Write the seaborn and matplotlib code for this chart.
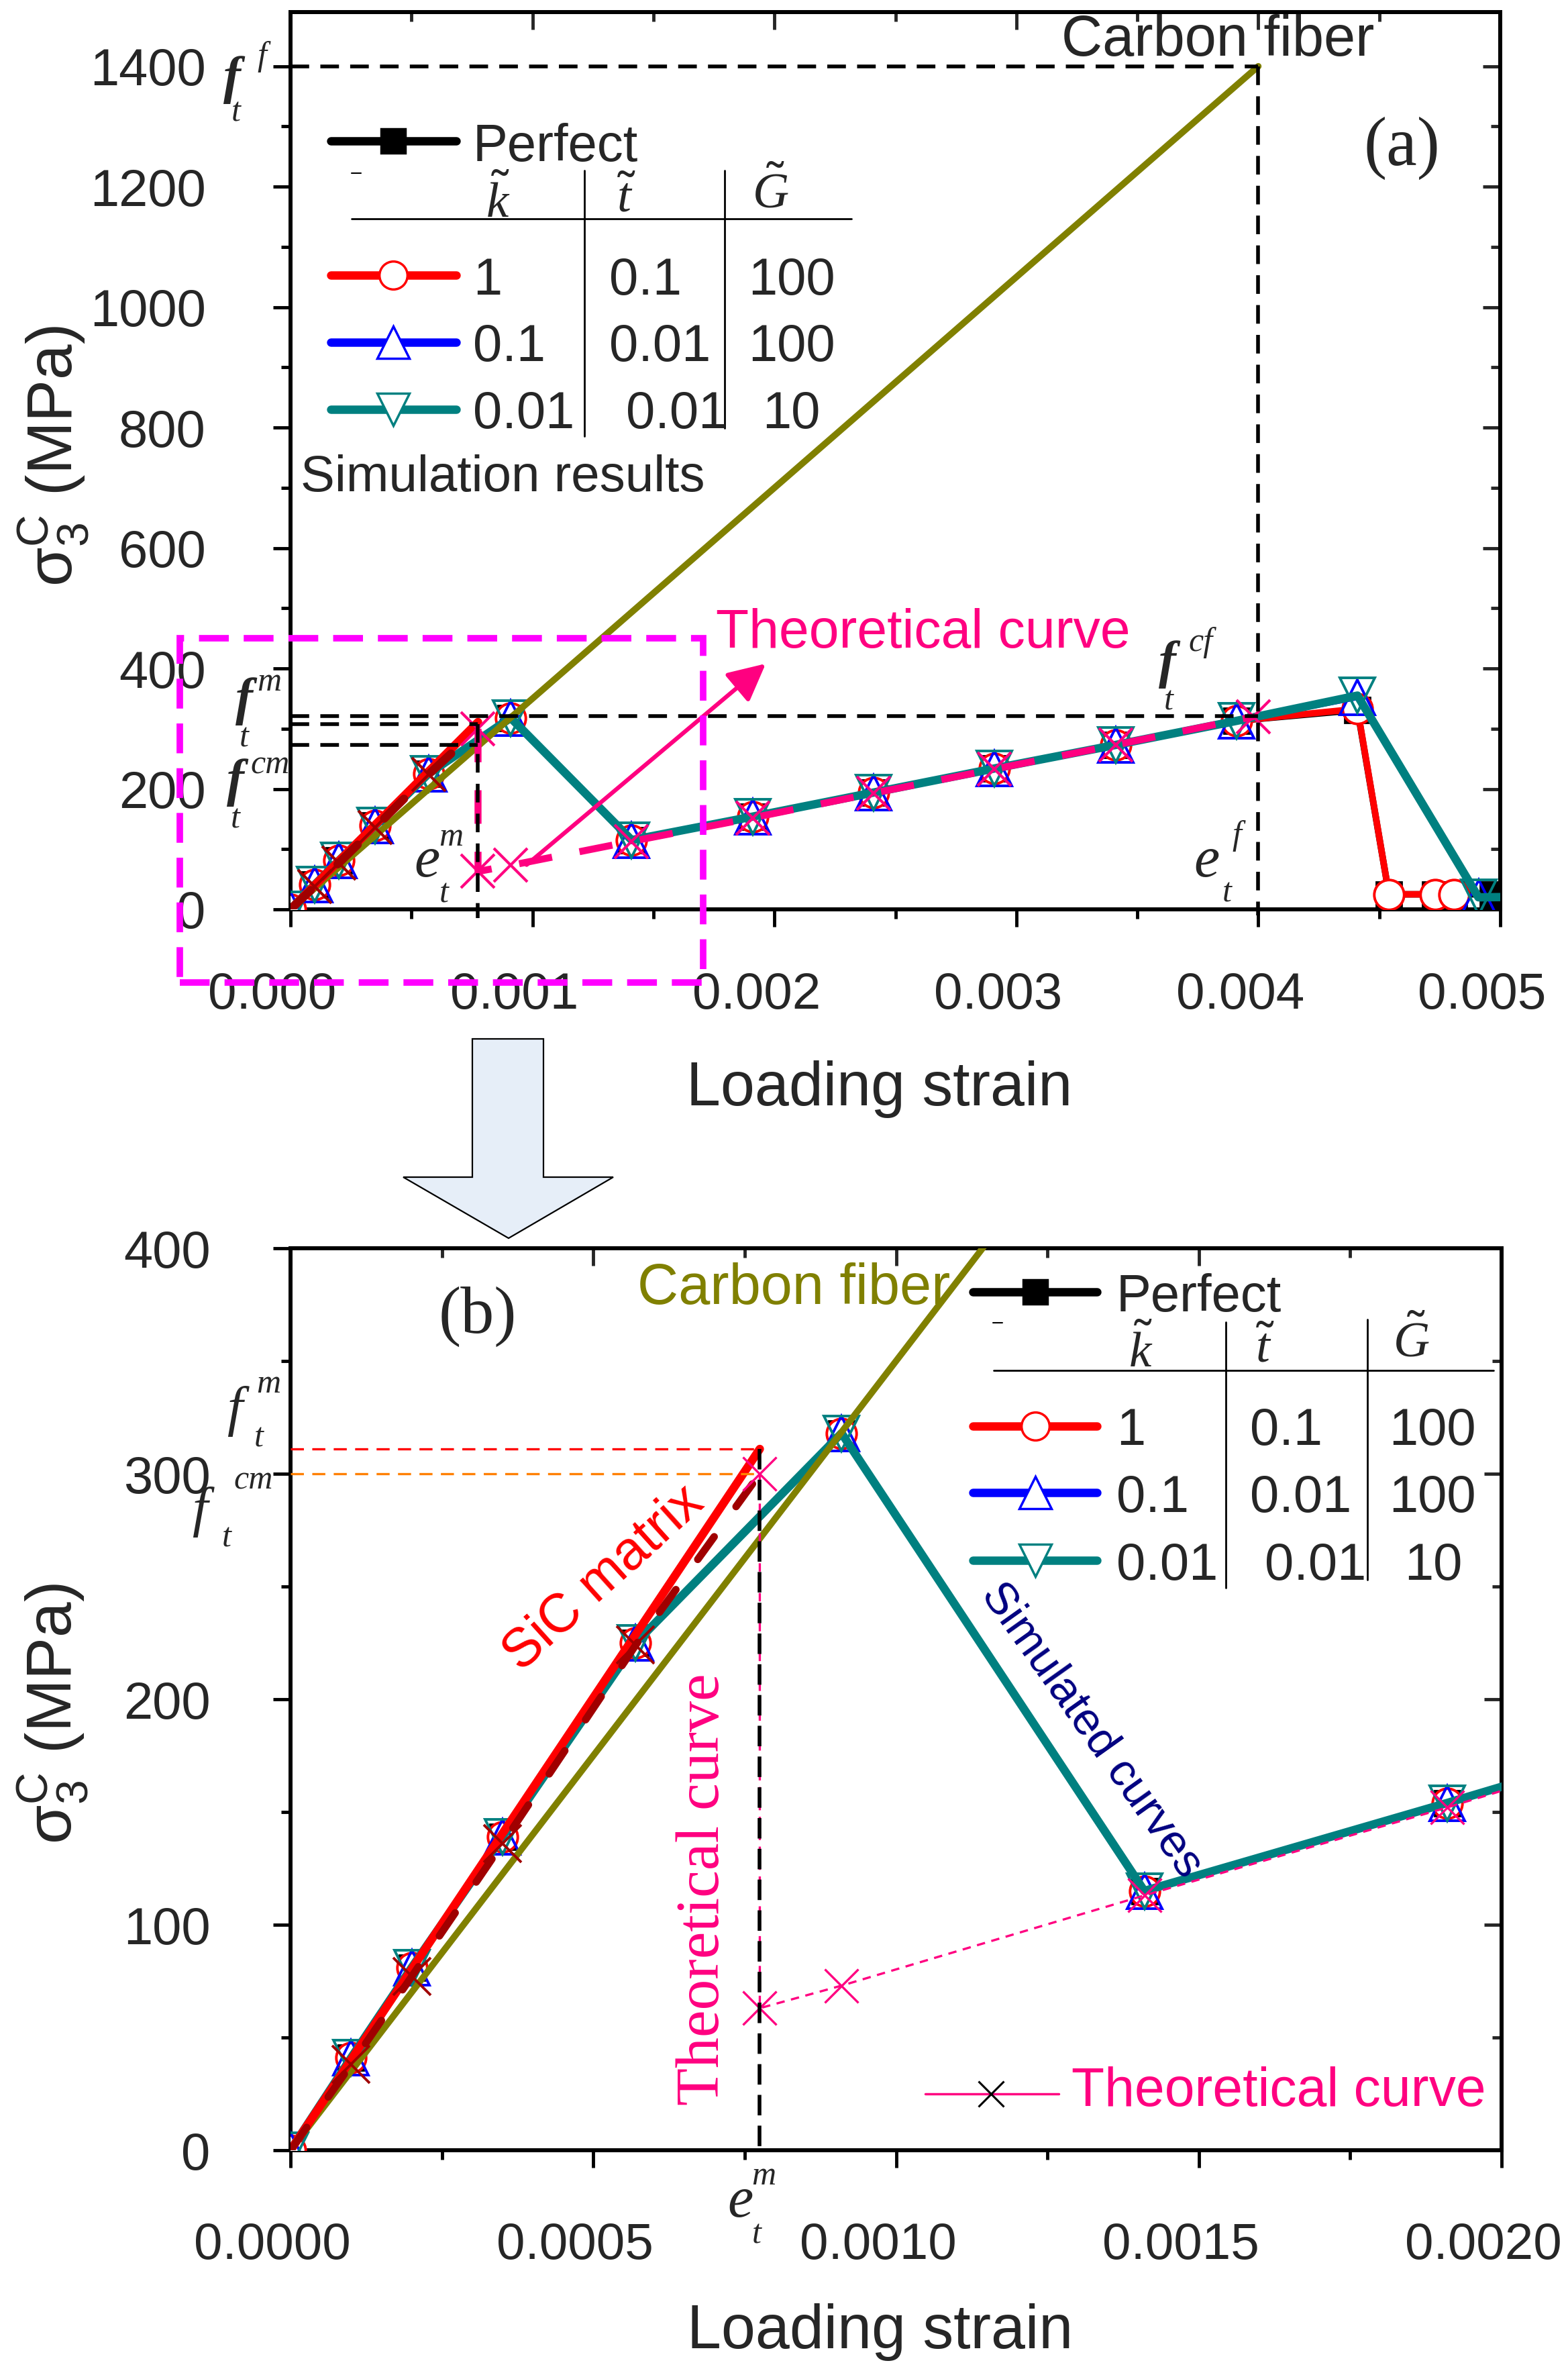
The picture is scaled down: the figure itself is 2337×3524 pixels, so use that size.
import matplotlib
matplotlib.use("Agg")
import matplotlib.pyplot as plt
from matplotlib.lines import Line2D
from matplotlib.patches import Polygon, Rectangle
from matplotlib.ticker import MultipleLocator, FormatStrFormatter
from matplotlib.transforms import ScaledTranslation
import seaborn as sns

sns.set_style("ticks")
plt.rcParams['font.family'] = ['Liberation Sans', 'DejaVu Sans']
plt.rcParams['mathtext.fontset'] = 'custom'
plt.rcParams['mathtext.rm'] = 'Liberation Sans'
plt.rcParams['mathtext.it'] = 'Liberation Serif:italic'
plt.rcParams['mathtext.bf'] = 'Liberation Sans:bold'
plt.rcParams['lines.scale_dashes'] = False

W, H = 2337, 3524

# ---- data (strain, MPa) ----
perfect_x = [0, 0.0001, 0.0002, 0.00035, 0.00057, 0.00091, 0.00141, 0.00191, 0.00241, 0.00291, 0.00341, 0.00391, 0.00441, 0.00454, 0.00473, 0.00481, 0.00497]
perfect_y = [0, 41, 81, 139, 225, 318, 115, 154, 194, 234, 273, 313, 331, 25, 25, 25, 25]
k1_x = [0, 0.0001, 0.0002, 0.00035, 0.00057, 0.00091, 0.00141, 0.00191, 0.00241, 0.00291, 0.00341, 0.00391, 0.00441, 0.00454, 0.00473, 0.00481]
k1_y = [0, 41, 81, 139, 225, 318, 115, 154, 194, 234, 273, 313, 333, 25, 25, 25]
k01_x = [0, 0.0001, 0.0002, 0.00035, 0.00057, 0.00091, 0.00141, 0.00191, 0.00241, 0.00291, 0.00341, 0.00391, 0.00441, 0.00491]
k01_y = [0, 41, 81, 139, 225, 318, 115, 154, 194, 234, 273, 313, 352, 20]
k001_x = [0, 0.0001, 0.0002, 0.00035, 0.00057, 0.00091, 0.00141, 0.00191, 0.00241, 0.00291, 0.00341, 0.00391, 0.00441, 0.00491, 0.0054]
k001_y = [0, 41, 81, 139, 225, 318, 115, 154, 194, 234, 273, 313, 355, 20, 22]

fiber_x = [0, 0.004]
fiber_y = [0, 1400]
sic_x = [0, 0.000775]
sic_y = [0, 311]

theory_pre_x = [0, 0.0001, 0.0002, 0.00035, 0.00057, 0.000775]
theory_pre_y = [0, 38, 77, 136, 224, 300]
theory_post_x = [0.000775, 0.000775, 0.00091, 0.00141, 0.00191, 0.00241, 0.00291, 0.00341, 0.00398]
theory_post_y = [300, 63, 73, 113, 152, 193, 233, 273, 320]

# characteristic values
ft_f = 1400
et_f = 0.004
ft_cf = 321
et_m = 0.000775
ft_m_a, ft_cm_a = 308, 273
ft_m_b, ft_cm_b = 311, 300

table_k = ["1", "0.1", "0.01"]
table_t = ["0.1", "0.01", "0.01"]
table_G = ["100", "100", "10"]

RED, BLUE, TEAL, OLIVE = "#FF0000", "#0000FF", "#008080", "#808000"
PINK, DRED, MAG, ORANGE, NAVY = "#FF0080", "#A00000", "#FF00FF", "#FF8000", "#000080"

fig = plt.figure(figsize=(W / 100, H / 100), dpi=100)
ax_a = fig.add_axes([433 / W, 1 - 1355 / H, (2236 - 433) / W, (1355 - 18) / H])
ax_b = fig.add_axes([433 / W, 1 - 3204 / H, (2238 - 433) / W, (3204 - 1860) / H])


def px(x, y):
    return x / W, 1 - y / H


def put(x, y, s, size=56, ha="left", va="baseline", **kw):
    fig.text(*px(x, y), s, fontsize=size, ha=ha, va=va, **kw)


def sym(main, sup, sub, pos_main, pos_sup, pos_sub, size=56, small=36, bold=False):
    put(*pos_main, main, size=size, ha="center", va="center", family="Liberation Serif",
        style="italic", weight="bold" if bold else "normal")
    put(*pos_sup, sup, size=small, ha="center", va="center", family="Liberation Serif", style="italic")
    put(*pos_sub, sub, size=small, ha="center", va="center", family="Liberation Serif", style="italic")


def draw_sims(ax):
    sns.lineplot(x=perfect_x, y=perfect_y, ax=ax, color="black", lw=7, marker="s", markersize=27,
                 mfc="black", mec="black", mew=2, estimator=None, sort=False, zorder=3)
    sns.lineplot(x=k1_x, y=k1_y, ax=ax, color=RED, lw=7, marker="o", markersize=32,
                 mfc="white", mec=RED, mew=2.8, estimator=None, sort=False, zorder=4)
    sns.lineplot(x=k01_x, y=k01_y, ax=ax, color=BLUE, lw=6, marker="^", markersize=38,
                 mfc="none", mec=BLUE, mew=2.8, estimator=None, sort=False, zorder=5)
    sns.lineplot(x=k001_x, y=k001_y, ax=ax, color=TEAL, lw=9, marker="v", markersize=38,
                 mfc="none", mec=TEAL, mew=2.8, estimator=None, sort=False, zorder=6)
    sns.lineplot(x=fiber_x, y=fiber_y, ax=ax, color=OLIVE, lw=7, estimator=None, sort=False, zorder=7)
    sns.lineplot(x=sic_x, y=sic_y, ax=ax, color=RED, lw=9, estimator=None, sort=False, zorder=8)


def style_axes(ax, xlim, ylim, xmaj, xmin, ymaj, ymin, xfmt, xpad, ypad):
    ax.set_xlim(*xlim)
    ax.set_ylim(*ylim)
    ax.xaxis.set_major_locator(MultipleLocator(xmaj))
    ax.xaxis.set_minor_locator(MultipleLocator(xmin))
    ax.yaxis.set_major_locator(MultipleLocator(ymaj))
    ax.yaxis.set_minor_locator(MultipleLocator(ymin))
    ax.xaxis.set_major_formatter(FormatStrFormatter(xfmt))
    ax.yaxis.set_major_formatter(FormatStrFormatter("%d"))
    ax.tick_params(which="both", direction="out", width=3.5, color="black", top=False, right=False)
    ax.tick_params(which="major", length=19)
    ax.tick_params(which="minor", length=10)
    ax.tick_params(axis="x", pad=xpad, labelsize=55)
    ax.tick_params(axis="y", pad=ypad, labelsize=56)
    for s in ax.spines.values():
        s.set_visible(True)
        s.set_linewidth(4.3)
        s.set_color("black")
    secx = ax.secondary_xaxis("top")
    secx.xaxis.set_major_locator(MultipleLocator(xmaj))
    secx.xaxis.set_minor_locator(MultipleLocator(xmin))
    secx.tick_params(which="both", direction="in", width=3.5, labeltop=False)
    secx.tick_params(which="major", length=19)
    secx.tick_params(which="minor", length=10)
    secx.spines["top"].set_linewidth(4.3)
    secy = ax.secondary_yaxis("right")
    secy.yaxis.set_major_locator(MultipleLocator(ymaj))
    secy.yaxis.set_minor_locator(MultipleLocator(ymin))
    secy.tick_params(which="both", direction="in", width=3.5, labelright=False)
    secy.tick_params(which="major", length=19)
    secy.tick_params(which="minor", length=10)
    secy.spines["right"].set_linewidth(4.3)
    # the x tick labels sit a little left of their ticks in the original
    shift = ScaledTranslation(-0.27, 0, fig.dpi_scale_trans)
    for lab in ax.get_xticklabels():
        lab.set_transform(lab.get_transform() + shift)


# ================= panel (a) =================
draw_sims(ax_a)
sns.lineplot(x=theory_pre_x, y=theory_pre_y, ax=ax_a, color=DRED, lw=9, linestyle=(0, (30, 40)),
             marker="x", markersize=36, mec=DRED, mew=3, markevery=[1, 2, 3, 4],
             estimator=None, sort=False, zorder=9, dash_capstyle="round")
sns.lineplot(x=theory_post_x, y=theory_post_y, ax=ax_a, color=PINK, lw=7.5, linestyle=(0, (36, 30)),
             marker="x", markersize=36, mec=PINK, mew=3, estimator=None, sort=False, zorder=10)

dash_a = dict(color="black", lw=4, linestyle=(0, (20, 12)), zorder=11)
ax_a.plot([0, et_f], [ft_f, ft_f], **dash_a)
ax_a.plot([et_f, et_f], [ft_f, -10], clip_on=False, **dash_a)
ax_a.plot([0, et_f], [ft_cf, ft_cf], **dash_a)
ax_a.plot([0, et_m], [ft_m_a, ft_m_a], **dash_a)
ax_a.plot([0, et_m], [ft_cm_a, ft_cm_a], **dash_a)
ax_a.plot([et_m, et_m], [ft_m_a, -15], clip_on=False, **dash_a)

ax_a.annotate("", xy=(0.00197, 410), xytext=(0.00097, 72),
              arrowprops=dict(arrowstyle="-|>", color=PINK, lw=4.5, mutation_scale=85), zorder=12)
ax_a.add_patch(Rectangle((-0.000458, -122), 0.002164, 572, fill=False, edgecolor=MAG, lw=7,
                         linestyle=(0, (32, 16)), clip_on=False, zorder=13))

style_axes(ax_a, (0, 0.005), (0, 1490), 0.001, 0.0005, 200, 100, "%.3f", 48, 72)
ax_a.set_xlabel("Loading strain", fontsize=66)
ax_a.xaxis.set_label_coords(0.487, -0.168)
ax_a.set_ylabel(r"$\mathregular{σ_3^C}$ (MPa)", fontsize=68)
ax_a.yaxis.set_label_coords(-0.165, 0.505)

# ================= panel (b) =================
draw_sims(ax_b)
sns.lineplot(x=theory_pre_x, y=theory_pre_y, ax=ax_b, color=DRED, lw=8, linestyle=(0, (30, 40)),
             marker="x", markersize=40, mec=DRED, mew=2.8, markevery=[1, 2, 3, 4],
             estimator=None, sort=False, zorder=9, dash_capstyle="round")
sns.lineplot(x=theory_post_x, y=theory_post_y, ax=ax_b, color=PINK, lw=2.4, linestyle=(0, (9, 7)),
             marker="x", markersize=36, mec=PINK, mew=2.4, estimator=None, sort=False, zorder=10)
ax_b.plot([0, et_m], [ft_m_b, ft_m_b], color=RED, lw=2.4, linestyle=(0, (14, 9)), zorder=11)
ax_b.plot([0, et_m], [ft_cm_b, ft_cm_b], color=ORANGE, lw=2.4, linestyle=(0, (14, 9)), zorder=11)
ax_b.plot([et_m, et_m], [ft_m_b, 0], color="black", lw=4, linestyle=(0, (22, 11)), zorder=11)

style_axes(ax_b, (0, 0.002), (0, 400), 0.0005, 0.00025, 100, 50, "%.4f", 58, 67)
ax_b.set_xlabel("Loading strain", fontsize=66)
ax_b.xaxis.set_label_coords(0.487, -0.170)
ax_b.set_ylabel(r"$\mathregular{σ_3^C}$ (MPa)", fontsize=68)
ax_b.yaxis.set_label_coords(-0.165, 0.484)

# ---- big arrow between the panels ----
arrow_pts = [(704, 1548), (810, 1548), (810, 1754), (914, 1754), (758, 1845), (601, 1754), (704, 1754)]
fig.add_artist(Polygon([px(x, y) for x, y in arrow_pts], closed=True, facecolor="#E6EEF8",
                       edgecolor="black", lw=1.6, transform=fig.transFigure))


# ---- hand-made legend tables ----
def legend_sample(x0, x1, y, color, marker, ms, mfc, lw=9):
    fig.add_artist(Line2D([x0 / W, x1 / W], [1 - y / H] * 2, transform=fig.transFigure,
                          color=color, lw=lw, solid_capstyle="round"))
    fig.add_artist(Line2D([(x0 + x1) / 2 / W], [1 - y / H], transform=fig.transFigure, ls="none",
                          marker=marker, ms=ms, mfc=mfc, mec=color, mew=2.5))


def table(x0, x1, y_perf, base_perf, rows_y, rows_base, col1, col2, col3, head, hline, seps, dash):
    legend_sample(x0, x1, y_perf, "black", "s", 26, "black")
    put(col1[0], base_perf, "Perfect")
    fig.add_artist(Line2D([dash[0] / W, (dash[0] + 14) / W], [1 - dash[1] / H] * 2,
                          transform=fig.transFigure, color="black", lw=1.5))
    for (hx, hy), s in zip(head, [r"$\tilde{k}$", r"$\tilde{t}$", r"$\tilde{G}$"]):
        put(hx, hy, s, size=54, ha="center")
    fig.add_artist(Line2D([hline[0] / W, hline[1] / W], [1 - hline[2] / H] * 2,
                          transform=fig.transFigure, color="black", lw=2))
    for sx, sy0, sy1 in seps:
        fig.add_artist(Line2D([sx / W] * 2, [1 - sy0 / H, 1 - sy1 / H],
                              transform=fig.transFigure, color="black", lw=2))
    styles = [(RED, "o", 30, "white"), (BLUE, "^", 34, "white"), (TEAL, "v", 34, "white")]
    for i, (c, m, ms, fc) in enumerate(styles):
        legend_sample(x0, x1, rows_y[i], c, m, ms, fc)
        put(col1[i], rows_base[i], table_k[i])
        put(col2[i], rows_base[i], table_t[i])
        put(col3[i], rows_base[i], table_G[i])


table(493, 680, 210, 240, [410, 510, 610], [439, 538, 638],
      [705, 705, 705], [908, 908, 933], [1115, 1115, 1136],
      [(742, 324), (933, 316), (1148, 309)], (524, 1269, 326), [(871, 254, 650), (1080, 254, 638)],
      (524, 258))
put(448, 732, "Simulation results", size=55)

table(1450, 1635, 1925, 1954, [2125, 2224, 2325], [2153, 2253, 2354],
      [1664, 1664, 1664], [1863, 1863, 1885], [2070, 2070, 2093],
      [(1700, 2037), (1885, 2030), (2103, 2021)], (1481, 2226, 2042), [(1827, 1970, 2366), (2038, 1966, 2354)],
      (1480, 1971))

# ---- panel texts ----
put(1815, 61, "Carbon fiber", size=61, ha="center", va="center")
put(2089, 221, "(a)", size=74, ha="center", va="center", family="Liberation Serif")
put(1376, 944, "Theoretical curve", size=58, ha="center", va="center", color=PINK)

put(1183, 1921, "Carbon fiber", size=61, ha="center", va="center", color=OLIVE)
put(712, 1962, "(b)", size=72, ha="center", va="center", family="Liberation Serif")
put(900, 2352, "SiC matrix", size=58, ha="center", va="center", color=RED, rotation=42, rotation_mode="anchor")
put(1627, 2578, "Simulated curves", size=49, ha="center", va="center", color=NAVY, rotation=-54.6,
    rotation_mode="anchor")
put(1049, 2815, "Theoretical curve", size=66, ha="center", va="center", color=PINK, rotation=90,
    family="Liberation Serif")
fig.add_artist(Line2D([1379 / W, 1578 / W], [1 - 3120 / H] * 2, transform=fig.transFigure, color=PINK, lw=2.5))
fig.add_artist(Line2D([1477 / W], [1 - 3120 / H], transform=fig.transFigure, ls="none", marker="x",
                      ms=28, mec="black", mew=2.2))
put(1597, 3138, "Theoretical curve", size=58, color=PINK)

# ---- symbol annotations ----
sym("f", "f", "t", (346, 119), (390, 85), (352, 168), bold=True)
sym("f", "m", "t", (364, 1045), (401, 1017), (364, 1100), bold=True)
sym("f", "cm", "t", (351, 1166), (403, 1140), (351, 1221), bold=True)
sym("e", "m", "t", (636, 1285), (672, 1248), (662, 1332), size=62)
sym("f", "cf", "t", (1740, 990), (1790, 958), (1742, 1045), bold=True)
sym("e", "f", "t", (1798, 1285), (1843, 1246), (1829, 1331), size=62)

sym("f", "m", "t", (350, 2103), (400, 2063), (386, 2143), size=60)
sym("f", "cm", "t", (298, 2253), (378, 2206), (338, 2292), size=60)
sym("e", "m", "t", (1103, 3282), (1138, 3243), (1128, 3330), size=62)

fig.savefig("out.png", dpi=100)
